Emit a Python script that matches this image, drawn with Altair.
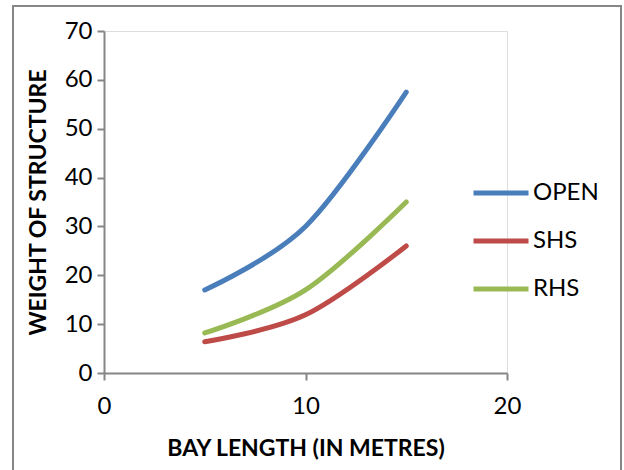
import altair as alt
import pandas as pd

# Bay length (m) and structure weight for each section type
bay_length = [5, 10, 15]
open_weight = [17.0, 30.0, 57.5]
shs_weight = [6.4, 11.9, 26.0]
rhs_weight = [8.2, 17.0, 35.0]

series_names = ["OPEN", "SHS", "RHS"]
series_colors = ["#4A7EBB", "#BE4B48", "#98B954"]

rows = []
for name, values in zip(series_names, [open_weight, shs_weight, rhs_weight]):
    for x, y in zip(bay_length, values):
        rows.append({"series": name, "bay": x, "weight": y})
df = pd.DataFrame(rows)

FONT = "Lato"
AXIS_GREY = "#868686"

lines = alt.Chart(df).mark_line(
    interpolate="cardinal", strokeWidth=5, strokeCap="round", strokeJoin="round"
).encode(
    x=alt.X(
        "bay:Q",
        scale=alt.Scale(domain=[0, 20], nice=False, zero=True),
        axis=alt.Axis(
            values=[0, 10, 20], title="BAY LENGTH (IN METRES)", grid=False,
            labelFlush=False,
            domainColor=AXIS_GREY, domainWidth=2, tickColor=AXIS_GREY, tickWidth=2,
            tickSize=7, labelPadding=14, labelFontSize=24, labelFont=FONT,
            labelColor="#000000", titleFont=FONT, titleFontSize=23,
            titleFontWeight="bold", titleColor="#000000", titlePadding=19,
        ),
    ),
    y=alt.Y(
        "weight:Q",
        scale=alt.Scale(domain=[0, 70], nice=False),
        axis=alt.Axis(
            values=[0, 10, 20, 30, 40, 50, 60, 70], title="WEIGHT OF STRUCTURE",
            grid=False, labelFlush=False,
            domainColor=AXIS_GREY, domainWidth=2, tickColor=AXIS_GREY,
            tickWidth=2, tickSize=7, labelPadding=5, labelFontSize=24,
            labelFont=FONT, labelColor="#000000", titleFont=FONT, titleFontSize=23,
            titleFontWeight="bold", titleColor="#000000", titlePadding=14,
        ),
    ),
    color=alt.Color(
        "series:N",
        scale=alt.Scale(domain=series_names, range=series_colors),
        sort=series_names,
        legend=alt.Legend(
            title=None, orient="none", legendX=367, legendY=132,
            symbolType="stroke", symbolSize=3025, symbolStrokeWidth=5,
            labelFont=FONT, labelFontSize=24, labelColor="#000000",
            labelOffset=2, rowPadding=6,
        ),
    ),
)

# Outer chart-area frame
frame = alt.Chart(pd.DataFrame({"k": [0]})).mark_rect(
    fill=None, stroke=AXIS_GREY, strokeWidth=2
).encode(
    x=alt.value(-91), x2=alt.value(517), y=alt.value(-25), y2=alt.value(460)
)

chart = alt.layer(frame, lines).properties(
    width=403, height=342,
    autosize=alt.AutoSizeParams(type="none"),
    padding={"left": 104, "top": 31, "right": 117, "bottom": 97},
).configure_view(stroke=None).configure(background="#ffffff")

chart.save("out.html", embed_options={"renderer": "svg", "actions": False})
